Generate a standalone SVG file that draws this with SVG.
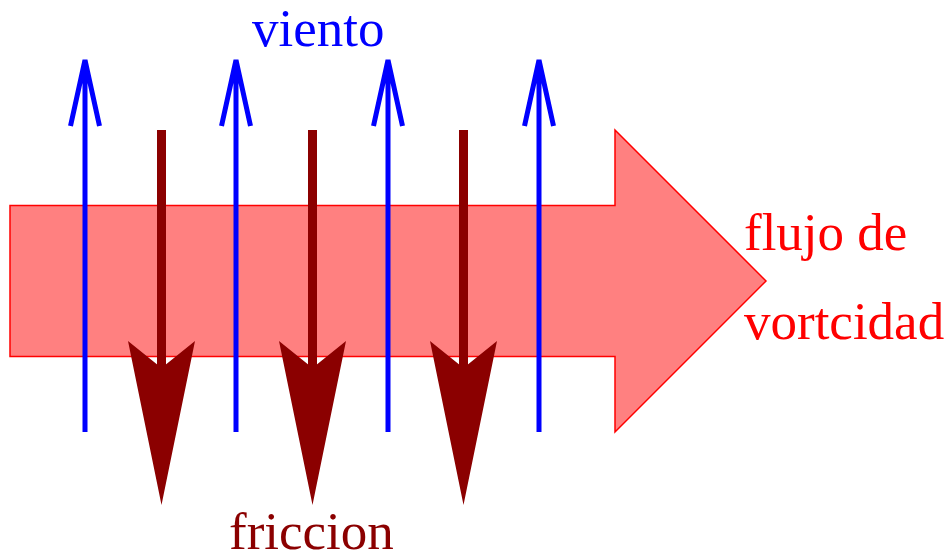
<svg xmlns="http://www.w3.org/2000/svg" width="951" height="560" viewBox="0 0 951 560">
<style>
.lbl{font-family:"Liberation Serif","Times New Roman",serif;font-size:53px}
.wind{stroke:#0000ff;stroke-width:5;fill:none}
.fric{stroke:#8b0000;stroke-width:9;fill:none}
.frichead{fill:#8b0000;stroke:none}
</style>
<rect width="951" height="560" fill="#ffffff"/>
<g id="flujo">
<polygon points="10,205.5 615,205.5 615,130 766,281 615,432 615,356.5 10,356.5" fill="#ff8080" stroke="#ff0000" stroke-width="1.5"/>
</g>
<g id="connectors">
<g id="viento-arrows">
<path class="wind" d="M85,432 V60 M70.5,126 L85,60 L99.5,126"/>
<path class="wind" d="M236,432 V60 M221.5,126 L236,60 L250.5,126"/>
<path class="wind" d="M388,432 V60 M373.5,126 L388,60 L402.5,126"/>
<path class="wind" d="M539,432 V60 M524.5,126 L539,60 L553.5,126"/>
</g>
<g id="friccion-arrows">
<path class="fric" d="M161.5,130 V370"/>
<polygon class="frichead" points="128,341 161.5,368 195,341 161.5,505"/>
<path class="fric" d="M312.5,130 V370"/>
<polygon class="frichead" points="279,341 312.5,368 346,341 312.5,505"/>
<path class="fric" d="M463.5,130 V370"/>
<polygon class="frichead" points="430,341 463.5,368 497,341 463.5,505"/>
</g>
</g>
<g id="labels">
<text class="lbl" x="252" y="46" fill="#0000ff">viento</text>
<text class="lbl" x="229" y="549" fill="#8b0000">friccion</text>
<text class="lbl" x="744" y="250" fill="#ff0000">flujo de</text>
<text class="lbl" x="744" y="339" fill="#ff0000">vortcidad</text>
</g>
</svg>
